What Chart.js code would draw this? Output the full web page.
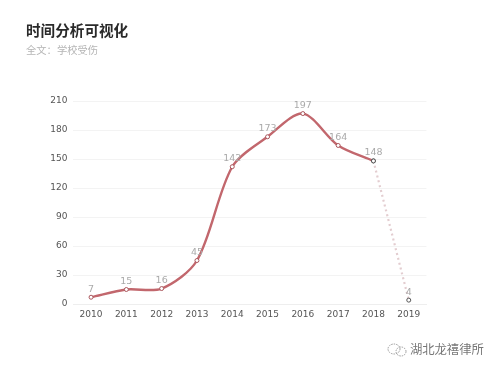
<!DOCTYPE html>
<html><head><meta charset="utf-8">
<style>
html,body{margin:0;padding:0;background:#fff;width:500px;height:371px;overflow:hidden}
#wrap{position:relative;width:500px;height:371px}
canvas{position:absolute;left:0;top:0}
.t{position:absolute;white-space:nowrap;font-family:"Noto Sans CJK SC",sans-serif}
#title{left:26px;top:20px;font-size:14.6px;font-weight:700;color:#2a2a2a;line-height:20px}
#sub{left:26px;top:42px;font-size:10.3px;color:#b5b5b5;line-height:15px}
#mark{left:410px;top:340px;font-size:12.4px;color:#777;line-height:18px;letter-spacing:-.1px}
#icon{position:absolute;left:385px;top:342px}
</style></head><body><div id="wrap">
<canvas id="c" width="500" height="371"></canvas>
<div class="t" id="title">时间分析可视化</div>
<div class="t" id="sub">全文：学校受伤</div>
<svg id="icon" width="24" height="16" viewBox="0 0 24 16" fill="none" stroke="#999" stroke-width="1" stroke-dasharray="1.5 1"><ellipse cx="9" cy="7" rx="6" ry="5"/><ellipse cx="16" cy="9.5" rx="5" ry="4.5"/></svg>
<div class="t" id="mark">湖北龙禧律所</div>
</div>
<script src="https://cdn.jsdelivr.net/npm/chart.js@4"></script>
<script>
const years=['2010','2011','2012','2013','2014','2015','2016','2017','2018','2019'];
const mainValues=[7,15,16,45,142,173,197,164,148,null];
const dottedValues=[null,null,null,null,null,null,null,null,148,4];
const allValues=[7,15,16,45,142,173,197,164,148,4];
const yTicks=[0,30,60,90,120,150,180,210];
const LABEL_FONT='9.5px "DejaVu Sans"';
const valueLabels={id:'valueLabels',afterDatasetsDraw(chart){
  const {ctx,scales:{x,y}}=chart;
  ctx.save();ctx.font=LABEL_FONT;ctx.fillStyle='#aaaaaa';ctx.textAlign='center';ctx.textBaseline='alphabetic';
  allValues.forEach((v,i)=>ctx.fillText(String(v),x.getPixelForValue(i),y.getPixelForValue(v)-5.5));
  ctx.restore();
}};
new Chart(document.getElementById('c'),{
  type:'line',
  data:{labels:years,datasets:[
    {data:dottedValues,borderColor:'#e3cdd0',borderWidth:2.2,borderDash:[2,3],tension:0,
     pointRadius:2,pointBackgroundColor:'#fff',pointBorderColor:'#555',pointBorderWidth:1,spanGaps:false},
    {data:mainValues,borderColor:'#c2676d',borderWidth:2.4,tension:0.3,
     pointRadius:2,pointBackgroundColor:'#fff',pointBorderColor:['#a9555b','#a9555b','#a9555b','#a9555b','#a9555b','#a9555b','#a9555b','#a9555b','#555555','#555555'],pointBorderWidth:1,spanGaps:false}
  ]},
  options:{
    responsive:false,animation:false,
    layout:{padding:{left:0,right:73.6,top:101,bottom:0}},
    plugins:{legend:{display:false},tooltip:{enabled:false}},
    scales:{
      x:{offset:true,
        afterFit(s){s.height=67;},
        grid:{display:false,drawTicks:false},
        border:{display:true,color:'#eeeeee'},
        ticks:{color:'#555555',font:{family:'"DejaVu Sans"',size:9},padding:5,maxRotation:0,autoSkip:false}},
      y:{min:0,max:210,
        afterFit(s){s.width=73.4;},
        afterBuildTicks(s){s.ticks=yTicks.map(v=>({value:v}));},
        grid:{color:'#f3f3f3',lineWidth:1,drawTicks:false},
        border:{display:false},
        ticks:{color:'#555555',font:{family:'"DejaVu Sans"',size:9},padding:6}}
    }
  },
  plugins:[valueLabels]
});
</script></body></html>
